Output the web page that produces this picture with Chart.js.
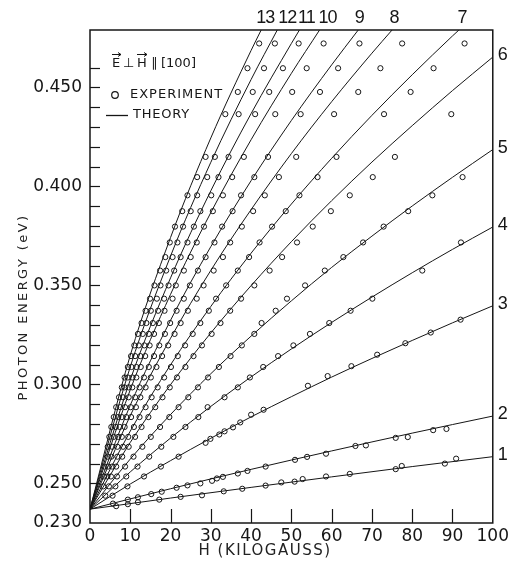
<!DOCTYPE html>
<html>
<head>
<meta charset="utf-8">
<script src="https://cdn.jsdelivr.net/npm/chart.js@4.4.1/dist/chart.umd.min.js"></script>
<style>
  html, body { margin: 0; padding: 0; background: #ffffff; }
  #wrap { position: relative; width: 512px; height: 565px; }
</style>
</head>
<body>
<div id="wrap"><canvas id="c"></canvas></div>
<script>
// ---------------- DATA ----------------
const levelNames = ['1','2','3','4','5','6','7','8','9','10','11','12','13'];

const xTickValues = [0, 10, 20, 30, 40, 50, 60, 70, 80, 90, 100];
const yTickValues = [0.230, 0.250, 0.300, 0.350, 0.400, 0.450];
const xMinorTicks = [10, 20, 30, 40, 50, 60, 70, 80, 90];
const yMinorTicks = [0.25, 0.26, 0.27, 0.28, 0.29, 0.30, 0.31, 0.32, 0.33, 0.34, 0.35,
                     0.36, 0.37, 0.38, 0.39, 0.40, 0.41, 0.42, 0.43, 0.44, 0.45, 0.46];

// theory curves (photon energy, eV) at field values (kG)
const H_COARSE = [0, 20, 40, 60, 80, 100];
const H_FINE = [0, 10, 20, 30, 40, 50, 60, 70, 80, 90, 100];
const theory1E = [0.2370, 0.2426, 0.2480, 0.2533, 0.2585, 0.2635];
const theory2E = [0.2370, 0.2473, 0.2571, 0.2664, 0.2754, 0.2840];
const theory3E = [0.2370, 0.2497, 0.2615, 0.2728, 0.2836, 0.2938, 0.3037, 0.3131, 0.3222, 0.3311, 0.3397];
const theory4E = [0.2370, 0.2558, 0.2729, 0.2889, 0.3038, 0.3179, 0.3313, 0.3441, 0.3564, 0.3682, 0.3795];
const theory5E = [0.2370, 0.2623, 0.2848, 0.3054, 0.3244, 0.3422, 0.3591, 0.3749, 0.3901, 0.4046, 0.4186];
const theory6E = [0.2370, 0.2707, 0.2999, 0.3260, 0.3499, 0.3721, 0.3928, 0.4123, 0.4307, 0.4484, 0.4653];
const theory7H = [0, 10, 20, 30, 40, 50, 60, 70, 80, 90, 91.6];
const theory7E = [0.2370, 0.2764, 0.3099, 0.3394, 0.3663, 0.3911, 0.4142, 0.4359, 0.4564, 0.4760, 0.4790];
const theory8H = [0, 10, 20, 30, 40, 50, 60, 70, 75];
const theory8E = [0.2370, 0.2842, 0.3233, 0.3576, 0.3883, 0.4166, 0.4428, 0.4673, 0.4790];
const theory9H = [0, 10, 20, 30, 40, 50, 60, 66.6];
const theory9E = [0.2370, 0.2895, 0.3324, 0.3696, 0.4029, 0.4333, 0.4614, 0.4790];
const theory10H = [0, 10, 20, 30, 40, 50, 57];
const theory10E = [0.2370, 0.2973, 0.3455, 0.3868, 0.4236, 0.4571, 0.4790];
const theory11H = [0, 10, 20, 30, 40, 50, 52];
const theory11E = [0.2370, 0.3023, 0.3538, 0.3978, 0.4368, 0.4722, 0.4790];
const theory12H = [0, 10, 20, 30, 40, 46.5];
const theory12E = [0.2370, 0.3089, 0.3648, 0.4122, 0.4540, 0.4790];
const theory13H = [0, 10, 20, 30, 40, 42.5];
const theory13E = [0.2370, 0.3147, 0.3742, 0.4245, 0.4687, 0.4790];

// experiment: measured at fixed photon energies (rows), fields where absorption peaks
const expRowE = [0.4722, 0.4597, 0.4477, 0.4365, 0.4149, 0.4047, 0.3955, 0.3875, 0.3797, 0.3717,
                 0.3643, 0.3575, 0.3500, 0.3433, 0.3372, 0.3310, 0.3255, 0.3197, 0.3143, 0.3088,
                 0.3035, 0.2985, 0.2935, 0.2885, 0.2835, 0.2785, 0.2735, 0.2685, 0.2635, 0.2585,
                 0.2535, 0.2485, 0.2438];
const expRowH = [
  [42, 45.9, 51.8, 58, 66.9, 77.5, 93],
  [39.1, 43.2, 47.9, 53.8, 61.6, 72.1, 85.3],
  [36.7, 40.4, 44.5, 50.2, 57.1, 66.6, 79.6],
  [33.6, 36.9, 41, 46, 52.3, 60.6, 73, 89.7],
  [28.7, 31, 34.4, 38.2, 44.2, 51.2, 61.2, 75.7],
  [26.6, 29.1, 31.9, 35.3, 40.8, 46.9, 56.5, 70.2, 92.5],
  [24.2, 26.6, 30.1, 33, 37.5, 43.4, 52, 64.5, 85],
  [22.9, 25, 27.4, 30.5, 35.4, 40.5, 48.6, 59.8, 79],
  [21.1, 23.1, 25.8, 28.3, 32.8, 37.7, 45.2, 55.3, 72.9],
  [19.8, 21.7, 24.2, 26.5, 30.9, 34.8, 42.1, 51.4, 67.8, 92.1],
  [18.7, 20.5, 22.5, 25, 28.7, 33, 39.5, 47.7, 62.9],
  [17.4, 18.9, 20.9, 23.3, 26.8, 30.7, 36.7, 44.6, 58.3, 82.5],
  [16.0, 17.5, 19.5, 21.3, 24.8, 28.2, 33.8, 40.8, 53.4],
  [14.9, 16.6, 18.4, 20.5, 23.3, 26.5, 31.3, 37.5, 48.9, 70.1],
  [13.8, 15.1, 16.9, 18.5, 21.5, 24.3, 29.5, 34.8, 46.1, 64.7],
  [12.8, 14.0, 15.6, 17.1, 19.9, 22.5, 27.4, 32.4, 42.6, 59.4],
  [11.9, 13.1, 14.6, 15.9, 18.6, 21.0, 25.5, 30.2, 40.8, 54.6],
  [11.0, 12.1, 13.5, 14.8, 17.2, 19.4, 23.6, 27.8, 37.7, 50.5],
  [10.2, 11.2, 12.5, 13.7, 15.9, 17.9, 21.8, 25.7, 34.9, 46.7],
  [9.4, 10.3, 11.5, 12.6, 14.6, 16.5, 20.1, 23.7, 32.0, 43.0],
  [8.6, 9.4, 10.5, 11.5, 13.4, 15.1, 18.4, 21.6, 29.3, 39.7],
  [7.9, 8.6, 9.6, 10.5, 12.3, 13.8, 16.8, 19.8, 26.8, 36.7],
  [7.2, 8.2, 9.6, 11.2, 12.5, 15.3, 18.0, 24.4, 33.4],
  [6.5, 7.5, 8.7, 10.1, 11.4, 13.8, 16.2, 22.0, 29.2],
  [5.9, 7.0, 7.9, 9.0, 10.2, 12.3, 14.5, 19.7, 26.9],
  [5.3, 6.4, 7.4, 8.6, 10.9, 12.8, 17.4, 23.7],
  [4.8, 5.9, 7.0, 7.9, 9.5, 11.2, 15.1, 20.7],
  [4.4, 5.5, 6.8, 8.2, 9.6, 13.0, 17.7],
  [4.4, 5.3, 6.8, 8.0, 10.8, 14.7, 22.0],
  [3.6, 4.5, 5.5, 6.5, 8.7, 11.8, 17.6],
  [3.5, 4.3, 5.2, 6.7, 9.0, 13.4],
  [3.3, 4.7, 6.3, 9.3],
  [3.8, 5.6]
];
const exp1H = [6.5, 9.4, 11.9, 17.2, 22.5, 27.8, 33.2, 37.8, 43.6, 47.5, 50.8, 52.8, 58.6, 64.5, 75.9, 77.4, 88.1, 90.9];
const exp1E = [0.2385, 0.2395, 0.2405, 0.2418, 0.2432, 0.2440, 0.2460, 0.2473, 0.2489, 0.2505, 0.2509, 0.2522, 0.2535, 0.2548, 0.2572, 0.2588, 0.2600, 0.2625];
const exp2H = [5.7, 9.4, 11.9, 15.2, 17.8, 21.5, 24.2, 27.4, 30.3, 31.5, 33.0, 36.7, 39.1, 43.6, 50.9, 53.9, 58.6, 65.9, 68.5, 75.9, 78.9, 85.2, 88.5];
const exp2E = [0.2398, 0.2418, 0.2430, 0.2446, 0.2458, 0.2478, 0.2490, 0.2500, 0.2513, 0.2525, 0.2533, 0.2550, 0.2563, 0.2585, 0.2619, 0.2634, 0.2650, 0.2689, 0.2692, 0.2730, 0.2734, 0.2769, 0.2775];
const exp3H = [28.7, 29.9, 32.1, 33.4, 35.5, 37.3, 40.0, 43.1, 54.1, 59.0, 64.9, 71.3, 78.3, 84.6, 92.0];
const exp3E = [0.2705, 0.2725, 0.2747, 0.2763, 0.2783, 0.2808, 0.2847, 0.2872, 0.2993, 0.3042, 0.3092, 0.3150, 0.3208, 0.3262, 0.3327];

// ---------------- BUILD ----------------
const INK = '#161616';
const FONT = '"DejaVu Sans", "Liberation Sans", sans-serif';
const NUM_FONT = '"Liberation Sans", "DejaVu Sans", sans-serif';

function pairs(hs, es) { return hs.map((h, i) => ({ x: h, y: es[i] })); }

const theorySets = [
  pairs(H_COARSE, theory1E), pairs(H_COARSE, theory2E),
  pairs(H_FINE, theory3E), pairs(H_FINE, theory4E), pairs(H_FINE, theory5E), pairs(H_FINE, theory6E),
  pairs(theory7H, theory7E), pairs(theory8H, theory8E), pairs(theory9H, theory9E),
  pairs(theory10H, theory10E), pairs(theory11H, theory11E), pairs(theory12H, theory12E),
  pairs(theory13H, theory13E)
];

const expPoints = [];
expRowE.forEach((e, i) => expRowH[i].forEach(h => expPoints.push({ x: h, y: e })));
pairs(exp1H, exp1E).forEach(p => expPoints.push(p));
pairs(exp2H, exp2E).forEach(p => expPoints.push(p));
pairs(exp3H, exp3E).forEach(p => expPoints.push(p));

const datasets = theorySets.map((d, i) => ({
  label: 'Theory ' + levelNames[i],
  data: d,
  showLine: true,
  borderColor: INK,
  borderWidth: 1,
  pointRadius: 0,
  pointHoverRadius: 0,
  cubicInterpolationMode: 'monotone',
  fill: false
}));
datasets.push({
  label: 'Experiment',
  data: expPoints,
  showLine: false,
  pointStyle: 'circle',
  pointRadius: 2.6,
  pointBorderWidth: 1,
  pointBorderColor: INK,
  pointBackgroundColor: 'rgba(255,255,255,0)'
});

// nudges (px) so crowded top labels do not collide
const topNudge = { '13': 1, '12': 7, '11': 4, '10': 5, '9': -2, '8': -1, '7': 0 };

const decor = {
  id: 'decor',
  afterDraw(chart) {
    const { ctx, chartArea: a, scales } = chart;
    const xs = scales.x, ys = scales.y;
    ctx.save();
    ctx.strokeStyle = INK;
    ctx.fillStyle = INK;

    // frame
    ctx.lineWidth = 1.5;
    ctx.strokeRect(a.left, a.top, a.right - a.left, a.bottom - a.top);

    // inside tick marks
    ctx.lineWidth = 1.2;
    yMinorTicks.forEach(v => {
      const py = Math.round(ys.getPixelForValue(v)) + 0.5;
      ctx.beginPath(); ctx.moveTo(a.left, py); ctx.lineTo(a.left + 10, py); ctx.stroke();
    });
    xMinorTicks.forEach(v => {
      const px = Math.round(xs.getPixelForValue(v)) + 0.5;
      ctx.beginPath(); ctx.moveTo(px, a.bottom); ctx.lineTo(px, a.bottom - 14); ctx.stroke();
    });

    // level labels
    ctx.save();
    ctx.font = '18px ' + NUM_FONT;
    ctx.letterSpacing = '-1px';
    theorySets.forEach((d, i) => {
      const last = d[d.length - 1];
      const name = levelNames[i];
      if (last.x < 99.9) {
        ctx.textAlign = 'center'; ctx.textBaseline = 'middle';
        ctx.fillText(name, xs.getPixelForValue(last.x) + 3 + (topNudge[name] || 0), a.top - 12);
      } else {
        ctx.textAlign = 'left'; ctx.textBaseline = 'middle';
        ctx.fillText(name, a.right + 5, ys.getPixelForValue(last.y) - 2);
      }
    });
    ctx.restore();

    // axis titles
    ctx.fillStyle = '#222';
    ctx.textAlign = 'center'; ctx.textBaseline = 'middle';
    ctx.save();
    ctx.translate(24, 307);
    ctx.rotate(-Math.PI / 2);
    ctx.font = '13px ' + FONT;
    ctx.letterSpacing = '2.4px';
    ctx.fillText('PHOTON ENERGY (eV)', 0, 0);
    ctx.restore();
    ctx.save();
    ctx.font = '15px ' + FONT;
    ctx.letterSpacing = '1.5px';
    ctx.fillText('H (KILOGAUSS)', 265, 551);
    ctx.restore();

    // legend block
    ctx.fillStyle = INK;
    ctx.textAlign = 'left'; ctx.textBaseline = 'middle';
    ctx.font = '13px ' + FONT;
    const ly = 64;
    ctx.fillText('E', 112, ly);
    ctx.fillText('\u22A5', 123, ly);
    ctx.fillText('H', 137, ly);
    ctx.fillText('\u2225', 151, ly);
    ctx.fillText('[100]', 161, ly);
    ctx.lineWidth = 1;
    [[112, 121], [137, 147]].forEach(([x0, x1]) => {
      ctx.beginPath();
      ctx.moveTo(x0, 54.5); ctx.lineTo(x1, 54.5);
      ctx.moveTo(x1 - 3, 52.5); ctx.lineTo(x1, 54.5); ctx.lineTo(x1 - 3, 56.5);
      ctx.stroke();
    });

    ctx.lineWidth = 1.2;
    ctx.beginPath(); ctx.arc(115, 95, 3.3, 0, Math.PI * 2); ctx.stroke();
    ctx.save(); ctx.letterSpacing = '1px';
    ctx.fillText('EXPERIMENT', 130, 95);
    ctx.restore();

    ctx.lineWidth = 1.3;
    ctx.beginPath(); ctx.moveTo(106, 115.5); ctx.lineTo(128, 115.5); ctx.stroke();
    ctx.save(); ctx.letterSpacing = '0.8px';
    ctx.fillText('THEORY', 133, 115);
    ctx.restore();

    ctx.restore();
  }
};

new Chart(document.getElementById('c'), {
  type: 'scatter',
  data: { datasets },
  options: {
    responsive: true,
    maintainAspectRatio: false,
    animation: false,
    events: [],
    layout: { padding: { top: 30, right: 15, left: 0, bottom: 0 } },
    plugins: { legend: { display: false }, tooltip: { enabled: false } },
    scales: {
      x: {
        type: 'linear', min: 0, max: 100,
        afterBuildTicks: s => { s.ticks = xTickValues.map(v => ({ value: v })); },
        afterFit: s => { s.height = 42; },
        grid: { display: false, drawTicks: false },
        border: { display: false },
        ticks: { padding: 3, color: INK, autoSkip: false, maxRotation: 0,
                 font: { family: FONT, size: 17 }, callback: v => String(v) }
      },
      y: {
        type: 'linear', min: 0.23, max: 0.479,
        afterBuildTicks: s => { s.ticks = yTickValues.map(v => ({ value: v })); },
        afterFit: s => { s.width = 90; },
        grid: { display: false, drawTicks: false },
        border: { display: false },
        ticks: { padding: 8, color: INK, autoSkip: false,
                 font: { family: FONT, size: 17 }, callback: v => Number(v).toFixed(3) }
      }
    }
  },
  plugins: [decor]
});
</script>
</body>
</html>
